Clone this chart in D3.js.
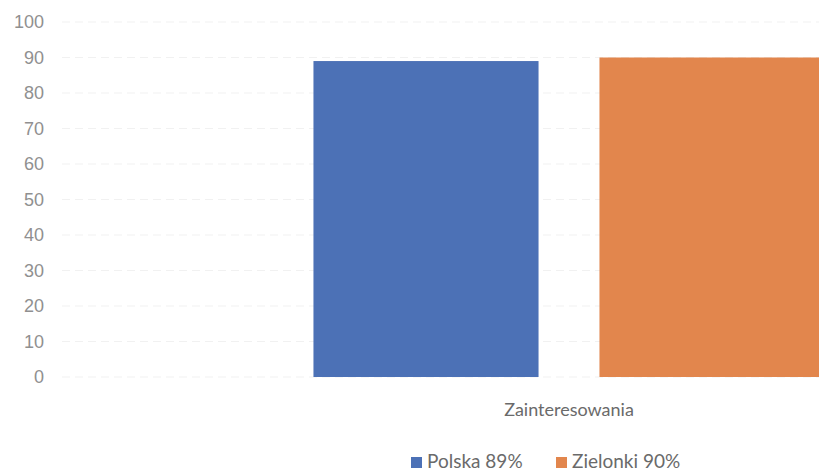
<!DOCTYPE html>
<html>
<head>
<meta charset="utf-8">
<script src="https://cdn.jsdelivr.net/npm/d3@7"></script>
<style>
  body { margin: 0; background: #fff; }
  svg { display: block; font-family: Lato, "Open Sans", sans-serif; }
  .tick-label { fill: #909090; font-size: 18px; font-weight: 300; }
  .grid line { stroke: #f1f1f1; stroke-width: 1; stroke-dasharray: 8 5; }
</style>
</head>
<body>
<svg width="819" height="471"></svg>
<script>
// dane
const categories = ["Zainteresowania"];
const series = ["Polska 89%", "Zielonki 90%"];
const values = [89, 90];
const yTicks = [0, 10, 20, 30, 40, 50, 60, 70, 80, 90, 100];
const colors = ["#4c71b6", "#e2864d"];

const width = 819, height = 471;
const svg = d3.select("svg");

// skale
const y = d3.scaleLinear().domain([0, 100]).range([377, 22]);
const x0 = d3.scaleBand().domain(categories).range([64, 1074]).padding(0.328);
const x1 = d3.scaleBand().domain(series).range([0, x0.bandwidth()]).paddingInner(0.213).paddingOuter(0);
const color = d3.scaleOrdinal().domain(series).range(colors);

// linie siatki
svg.append("g").attr("class", "grid")
  .selectAll("line").data(yTicks).enter().append("line")
  .attr("x1", 62).attr("x2", width)
  .attr("y1", d => y(d)).attr("y2", d => y(d));

// os Y (tylko etykiety)
const yAxis = svg.append("g")
  .attr("transform", "translate(44,0)")
  .call(d3.axisLeft(y).tickValues(yTicks).tickSize(0).tickPadding(0));
yAxis.select(".domain").remove();
yAxis.selectAll("text").attr("class", "tick-label").attr("fill", null);

// slupki
const groups = svg.append("g").selectAll("g").data(categories).enter().append("g")
  .attr("transform", d => `translate(${x0(d)},0)`);

groups.selectAll("rect").data(() => series.map((s, i) => ({ s, v: values[i] })))
  .enter().append("rect")
  .attr("x", d => x1(d.s))
  .attr("y", d => y(d.v))
  .attr("width", x1.bandwidth())
  .attr("height", d => y(0) - y(d.v))
  .attr("fill", d => color(d.s));

// etykieta kategorii
svg.append("g").selectAll("text").data(categories).enter().append("text")
  .attr("x", d => x0(d) + x0.bandwidth() / 2)
  .attr("y", 416)
  .attr("text-anchor", "middle")
  .attr("fill", "#6a6a6a")
  .attr("font-size", 18)
  .text(d => d);

// legenda
const legendX = [411, 556];
const legend = svg.append("g").selectAll("g").data(series).enter().append("g")
  .attr("transform", (d, i) => `translate(${legendX[i]},456)`);
legend.append("rect").attr("width", 11).attr("height", 11).attr("y", 1)
  .attr("fill", d => color(d));
legend.append("text").attr("x", 16).attr("y", 12)
  .attr("fill", "#6a6a6a").attr("font-size", 19)
  .text(d => d);
</script>
</body>
</html>
